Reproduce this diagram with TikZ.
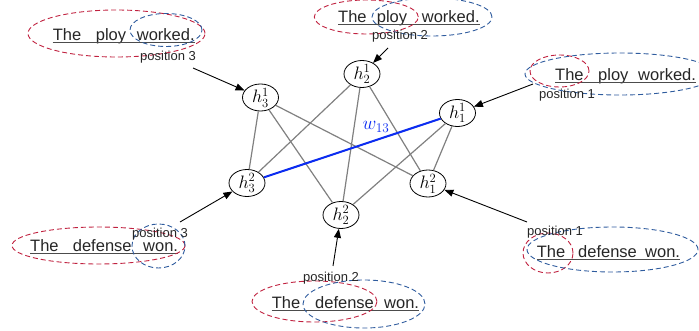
\RequirePackage{fix-cm}
\documentclass[tikz,border=0pt]{standalone}
\usepackage{amsmath}
\usepackage{fontspec}
\usepackage{tikz}
\usetikzlibrary{shapes.geometric,arrows.meta}
\newfontfamily\sentfont{Liberation Sans}
\definecolor{ringred}{HTML}{C0213F}
\definecolor{ringblue}{HTML}{2F5C9E}
\definecolor{edgegray}{HTML}{808080}
\definecolor{wblue}{HTML}{0B2CF2}
\tikzset{
  hid/.style={draw=black, line width=0.8pt, ellipse, fill=white, minimum width=36pt, minimum height=25pt, inner sep=0pt, font=\fontsize{18}{20}\selectfont},
  link/.style={draw=edgegray, line width=1.2pt},
  wlink/.style={draw=wblue, line width=2pt},
  feed/.style={draw=black, line width=0.9pt, -{Triangle[length=9pt,width=7pt]}},
  redring/.style={draw=ringred, line width=0.9pt, dash pattern=on 5pt off 3pt},
  bluering/.style={draw=ringblue, line width=0.9pt, dash pattern=on 5pt off 3pt},
  word/.style={anchor=base west, inner sep=0pt, text=black!85, font=\sentfont\fontsize{16.5}{18}\selectfont},
  uline/.style={draw=black!70, line width=1pt},
  poslab/.style={anchor=base west, inner sep=0pt, text=black!85, font=\sentfont\fontsize{13}{15}\selectfont},
  wlab/.style={text=wblue, inner sep=0pt, font=\fontsize{19}{21}\selectfont},
}

\begin{document}
\begin{tikzpicture}[x=1pt, y=-1pt]
  \useasboundingbox (0,0) rectangle (699,331);
  % hidden units
  \node[hid] (h31) at (260.5,97.5) {$h_3^1$};
  \node[hid] (h21) at (362,74) {$h_2^1$};
  \node[hid] (h11) at (457.5,113) {$h_1^1$};
  \node[hid] (h32) at (247,183) {$h_3^2$};
  \node[hid] (h22) at (341,215) {$h_2^2$};
  \node[hid] (h12) at (428,183.5) {$h_1^2$};
  \foreach \a in {h11,h21,h31}
    \foreach \b in {h12,h22,h32}
      \draw[link] (\a) -- (\b);
  \draw[wlink] (h11) -- (h32);
  \node[wlab] (w13) at (376,127) {$w_{13}$};

  % sentences, word by word
  \foreach \s/\y/\wa/\xa/\wb/\xb/\wc/\xc in {
      tl/40.5/The/52.7/ploy/95.7/worked./136.7,
      tc/22.5/The/338/ploy/376.7/worked./421.7,
      tr/80.5/The/555/ploy/598/worked./638,
      bl/251.5/The/30/defense/72.7/won./143,
      bc/308/The/271.7/defense/315/won./384,
      br/258/The/536.7/defense/578/won./645} {
    \node[word] (\s1) at (\xa,\y) {\wa};
    \node[word] (\s2) at (\xb,\y) {\wb};
    \node[word] (\s3) at (\xc,\y) {\wc};
    \draw[uline] ([yshift=-2pt]\s1.base west) -- ([yshift=-2pt]\s3.base east);
  }

  % attention windows
  \draw[redring] (116.5,33.5) ellipse [x radius=88.5pt, y radius=23.5pt];
  \draw[bluering] (166,30) ellipse [x radius=36pt, y radius=16.5pt];
  \draw[redring] (366.3,17) ellipse [x radius=52pt, y radius=17pt];
  \draw[bluering] (432,17) ellipse [x radius=60pt, y radius=19pt];
  \draw[redring] (559.5,71) ellipse [x radius=29.5pt, y radius=16pt];
  \draw[bluering] (620,74) ellipse [x radius=95pt, y radius=21pt];
  \draw[redring] (98.5,245.5) ellipse [x radius=86.5pt, y radius=18.5pt];
  \draw[bluering] (158.5,246) ellipse [x radius=26.5pt, y radius=22pt];
  \draw[redring] (314.5,301.5) ellipse [x radius=62.5pt, y radius=20.5pt];
  \draw[bluering] (364,304) ellipse [x radius=61pt, y radius=24pt];
  \draw[redring] (548,253) ellipse [x radius=25pt, y radius=20pt];
  \draw[bluering] (612.5,249.5) ellipse [x radius=85.5pt, y radius=22.5pt];

  % position labels
  \node[poslab] (p3a) at (140,61) {position 3};
  \node[poslab] (p2a) at (372,39.5) {position 2};
  \node[poslab] (p1a) at (539,99) {position 1};
  \node[poslab] (p3b) at (132,237.5) {position 3};
  \node[poslab] (p2b) at (303,282) {position 2};
  \node[poslab] (p1b) at (527,235.5) {position 1};

  % inputs
  \coordinate (t31) at (193,68);
  \coordinate (t21) at (388,48);
  \coordinate (t11) at (533,84);
  \coordinate (t32) at (180,222);
  \coordinate (t22) at (333,266);
  \coordinate (t12) at (527,222);
  \foreach \n in {31,21,11,32,22,12}
    \draw[feed] (t\n) -- (h\n);
\end{tikzpicture}
\end{document}
